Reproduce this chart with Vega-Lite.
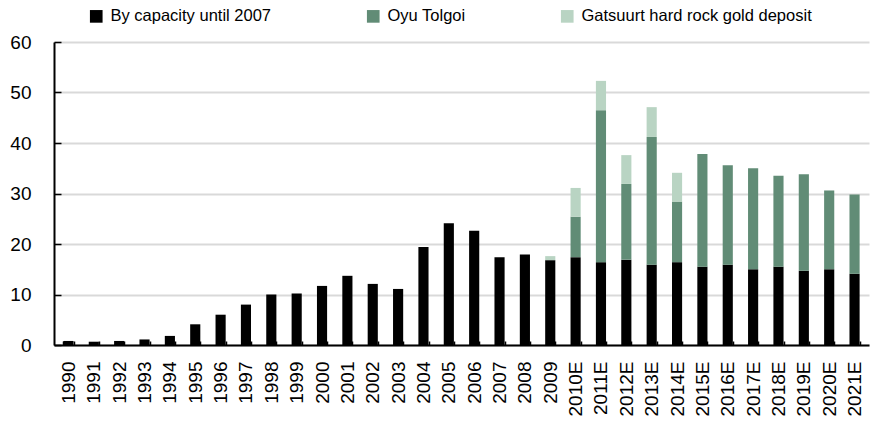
{
  "$schema": "https://vega.github.io/schema/vega-lite/v6.json",
  "width": 815,
  "height": 303,
  "autosize": {"type": "none"},
  "padding": {"left": 54, "top": 42, "right": 4, "bottom": 76},
  "background": "white",
  "data": {"values": [
    {"year": "1990", "series": "By capacity until 2007", "ord": 1, "value": 0.8},
    {"year": "1991", "series": "By capacity until 2007", "ord": 1, "value": 0.65},
    {"year": "1992", "series": "By capacity until 2007", "ord": 1, "value": 0.8},
    {"year": "1993", "series": "By capacity until 2007", "ord": 1, "value": 1.1},
    {"year": "1994", "series": "By capacity until 2007", "ord": 1, "value": 1.8},
    {"year": "1995", "series": "By capacity until 2007", "ord": 1, "value": 4.1},
    {"year": "1996", "series": "By capacity until 2007", "ord": 1, "value": 6.0},
    {"year": "1997", "series": "By capacity until 2007", "ord": 1, "value": 8.0},
    {"year": "1998", "series": "By capacity until 2007", "ord": 1, "value": 10.0},
    {"year": "1999", "series": "By capacity until 2007", "ord": 1, "value": 10.2},
    {"year": "2000", "series": "By capacity until 2007", "ord": 1, "value": 11.7},
    {"year": "2001", "series": "By capacity until 2007", "ord": 1, "value": 13.7},
    {"year": "2002", "series": "By capacity until 2007", "ord": 1, "value": 12.1},
    {"year": "2003", "series": "By capacity until 2007", "ord": 1, "value": 11.1},
    {"year": "2004", "series": "By capacity until 2007", "ord": 1, "value": 19.4},
    {"year": "2005", "series": "By capacity until 2007", "ord": 1, "value": 24.1},
    {"year": "2006", "series": "By capacity until 2007", "ord": 1, "value": 22.6},
    {"year": "2007", "series": "By capacity until 2007", "ord": 1, "value": 17.4},
    {"year": "2008", "series": "By capacity until 2007", "ord": 1, "value": 17.9},
    {"year": "2009", "series": "By capacity until 2007", "ord": 1, "value": 16.8},
    {"year": "2009", "series": "Gatsuurt hard rock gold deposit", "ord": 3, "value": 0.8},
    {"year": "2010E", "series": "By capacity until 2007", "ord": 1, "value": 17.4},
    {"year": "2010E", "series": "Oyu Tolgoi", "ord": 2, "value": 8.0},
    {"year": "2010E", "series": "Gatsuurt hard rock gold deposit", "ord": 3, "value": 5.7},
    {"year": "2011E", "series": "By capacity until 2007", "ord": 1, "value": 16.4},
    {"year": "2011E", "series": "Oyu Tolgoi", "ord": 2, "value": 30.1},
    {"year": "2011E", "series": "Gatsuurt hard rock gold deposit", "ord": 3, "value": 5.8},
    {"year": "2012E", "series": "By capacity until 2007", "ord": 1, "value": 16.9},
    {"year": "2012E", "series": "Oyu Tolgoi", "ord": 2, "value": 15.0},
    {"year": "2012E", "series": "Gatsuurt hard rock gold deposit", "ord": 3, "value": 5.7},
    {"year": "2013E", "series": "By capacity until 2007", "ord": 1, "value": 15.9},
    {"year": "2013E", "series": "Oyu Tolgoi", "ord": 2, "value": 25.3},
    {"year": "2013E", "series": "Gatsuurt hard rock gold deposit", "ord": 3, "value": 5.9},
    {"year": "2014E", "series": "By capacity until 2007", "ord": 1, "value": 16.4},
    {"year": "2014E", "series": "Oyu Tolgoi", "ord": 2, "value": 12.0},
    {"year": "2014E", "series": "Gatsuurt hard rock gold deposit", "ord": 3, "value": 5.7},
    {"year": "2015E", "series": "By capacity until 2007", "ord": 1, "value": 15.5},
    {"year": "2015E", "series": "Oyu Tolgoi", "ord": 2, "value": 22.3},
    {"year": "2016E", "series": "By capacity until 2007", "ord": 1, "value": 15.9},
    {"year": "2016E", "series": "Oyu Tolgoi", "ord": 2, "value": 19.7},
    {"year": "2017E", "series": "By capacity until 2007", "ord": 1, "value": 15.0},
    {"year": "2017E", "series": "Oyu Tolgoi", "ord": 2, "value": 20.0},
    {"year": "2018E", "series": "By capacity until 2007", "ord": 1, "value": 15.5},
    {"year": "2018E", "series": "Oyu Tolgoi", "ord": 2, "value": 18.0},
    {"year": "2019E", "series": "By capacity until 2007", "ord": 1, "value": 14.7},
    {"year": "2019E", "series": "Oyu Tolgoi", "ord": 2, "value": 19.1},
    {"year": "2020E", "series": "By capacity until 2007", "ord": 1, "value": 15.0},
    {"year": "2020E", "series": "Oyu Tolgoi", "ord": 2, "value": 15.6},
    {"year": "2021E", "series": "By capacity until 2007", "ord": 1, "value": 14.1},
    {"year": "2021E", "series": "Oyu Tolgoi", "ord": 2, "value": 15.7}
  ]},
  "mark": {"type": "bar"},
  "encoding": {
    "x": {
      "field": "year", "type": "ordinal", "sort": null,
      "scale": {"paddingInner": 0.6, "paddingOuter": 0.37},
      "axis": {
        "title": null, "labelAngle": -90, "labelAlign": "right", "labelBaseline": "middle",
        "labelFontSize": 19, "labelColor": "black", "labelPadding": 20,
        "domainColor": "black", "domainWidth": 2,
        "ticks": true, "tickBand": "extent", "tickSize": -4, "tickColor": "black", "tickWidth": 1.5
      }
    },
    "y": {
      "field": "value", "type": "quantitative", "stack": "zero",
      "scale": {"domain": [0, 60], "nice": false},
      "axis": {
        "title": null, "values": [0, 10, 20, 30, 40, 50, 60],
        "labelFontSize": 19, "labelColor": "black", "labelPadding": 30,
        "domainColor": "black", "domainWidth": 2,
        "tickSize": -7, "tickColor": "black", "tickWidth": 1.5,
        "grid": true, "gridColor": "#d9d9d9", "gridWidth": 2
      }
    },
    "color": {
      "field": "series", "type": "nominal",
      "scale": {
        "domain": ["By capacity until 2007", "Oyu Tolgoi", "Gatsuurt hard rock gold deposit"],
        "range": ["#000000", "#618c76", "#b9d4c3"]
      },
      "legend": {
        "title": null, "orient": "none", "legendX": 34, "legendY": -34,
        "direction": "horizontal", "columnPadding": 93,
        "symbolType": "square", "symbolSize": 160, "symbolStrokeWidth": 0,
        "labelFontSize": 16.5, "labelColor": "black", "labelOffset": 6, "labelLimit": 400
      }
    },
    "order": {"field": "ord", "type": "quantitative"}
  },
  "config": {
    "view": {"stroke": null},
    "font": "Liberation Sans, Arial, sans-serif"
  }
}
